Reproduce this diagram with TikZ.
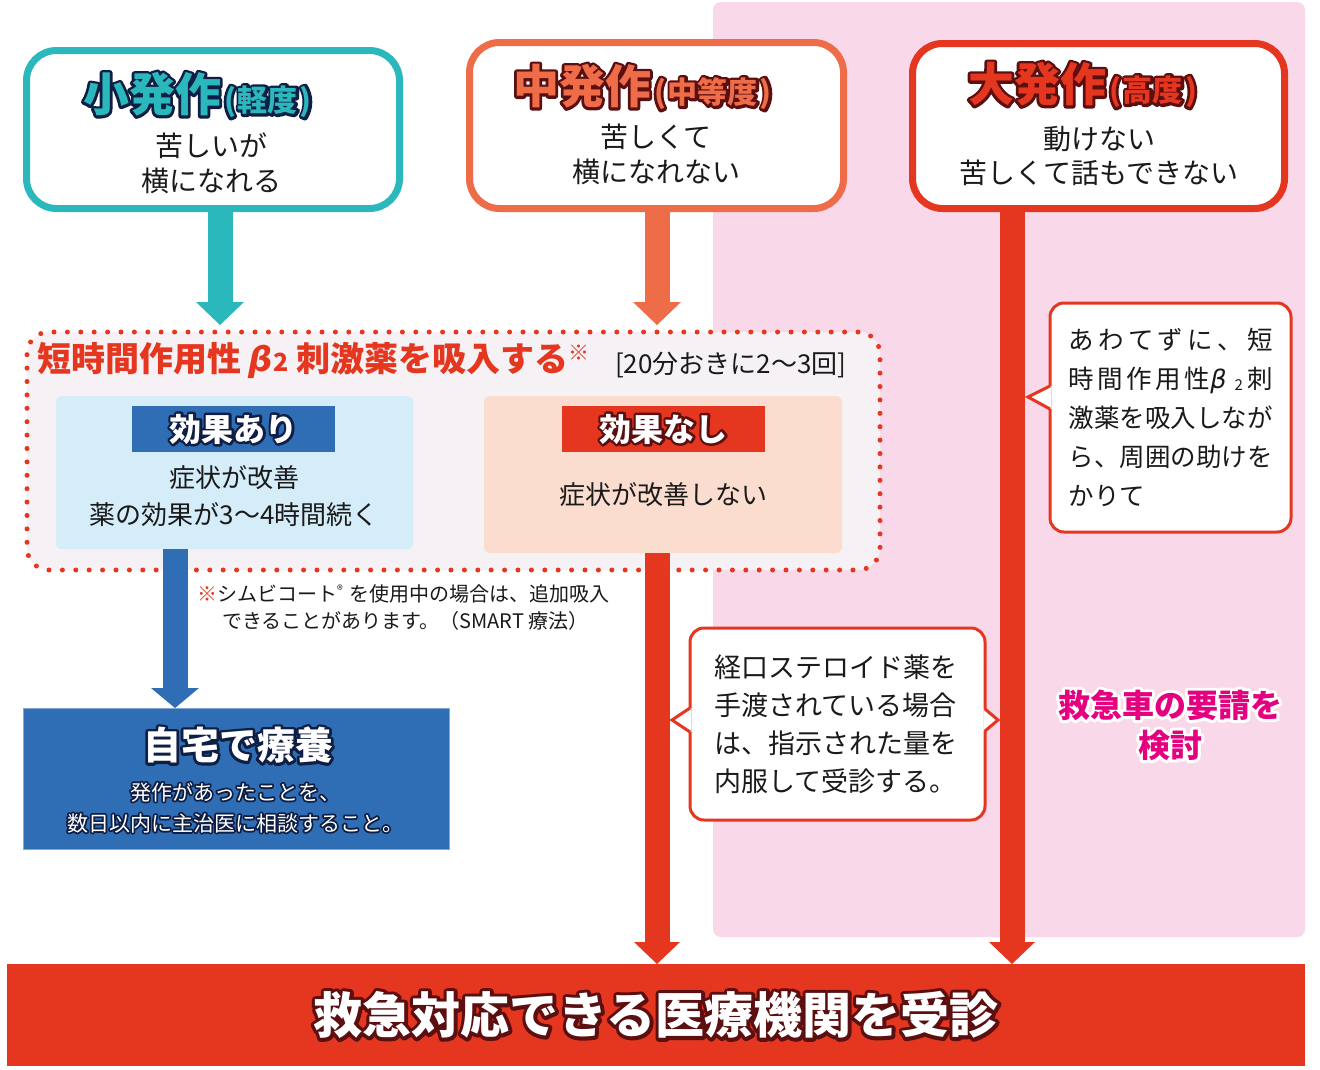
\documentclass[tikz,border=0pt]{standalone}
\usepackage{fontspec}
\setmainfont{Noto Sans CJK JP}
\newfontfamily\grk{DejaVu Sans}
\usetikzlibrary{arrows.meta,calc}
\definecolor{cTeal}{HTML}{2BB8BC}
\definecolor{cOrange}{HTML}{EE6D48}
\definecolor{cRed}{HTML}{E5361F}
\definecolor{cBlue}{HTML}{2F6EB5}
\definecolor{cLBlue}{HTML}{D5ECF9}
\definecolor{cPeach}{HTML}{FADDCF}
\definecolor{cGray}{HTML}{F5F1F4}
\definecolor{cPink}{HTML}{F9D9E9}
\definecolor{cMag}{HTML}{E4007F}
\definecolor{cNavy}{HTML}{0E1E44}
\definecolor{cMaroon}{HTML}{5C0F10}
\definecolor{cText}{HTML}{1A1A1A}
\newcommand\fsz[1]{\fontsize{#1}{#1}\selectfont}
\newcommand\fszb[2]{\fontsize{#1}{#2}\selectfont}
% outlined text: name, position, options, outline colour, fill colour, stroke width, text
\newcommand\outl[7]{%
  \node[#3,text=#4] (#1-o) at (#2) {\special{pdf:literal direct 1 j 1 J #6 w 1 Tr}#7};
  \node[#3,text=#5] (#1) at (#2) {#7};}
\begin{document}
\begin{tikzpicture}[x=1pt,y=-1pt,
  every node/.style={inner sep=0pt,outer sep=0pt},
  sevbox/.style={draw,line width=7,rounded corners=30,fill=white},
  dotbox/.style={draw=cRed,fill=cGray,line width=5,dash pattern=on 0pt off 13.4pt,line cap=round,rounded corners=22},
  subbox/.style={rounded corners=6},
  callout/.style={draw=cRed,fill=white,line width=3,rounded corners=14},
  body/.style={text=cText,align=center},
  fatarrow/.style={line width=25},
]
\useasboundingbox (0,0) rectangle (1320,1069);
\fill[white] (0,0) rectangle (1320,1069);
% pink zone
\fill[cPink,rounded corners=8] (713,2) rectangle (1305,937);

% coordinates for arrow columns
\coordinate (xt) at (220,0);
\coordinate (xo) at (657,0);
\coordinate (xb) at (175,0);
\coordinate (xr) at (1012,0);

% dotted inhalation region
\node[dotbox,minimum width=853,minimum height=238] (dot) at (453.5,451) {};
\node[subbox,fill=cLBlue,minimum width=357,minimum height=153] (ari) at (234.5,472.5) {};
\node[subbox,fill=cPeach,minimum width=358,minimum height=157] (nashi) at (663,474.5) {};
\node[fill=cBlue,minimum width=203,minimum height=46] (ariH) at (233.5,429) {};
\node[fill=cRed,minimum width=203,minimum height=46] (nashiH) at (663.5,429) {};

% home box and bottom bar
\node[fill=cBlue,draw=cBlue!60,line width=0.8,minimum width=426,minimum height=141] (home) at (236,778.5) {};
\node[fill=cRed,minimum width=1298,minimum height=102] (bar) at (656,1015) {};

% centres of the severity boxes
\path (213,129.5) coordinate (b1c) (656.5,125.5) coordinate (b2c) (1098.5,126) coordinate (b3c);

% arrows
\draw[fatarrow,cTeal,-{Triangle[width=48pt,length=23pt,line width=0pt]}] (xt |- 0,200) -- ($(dot.north -| xt)+(0,-7)$);
\draw[fatarrow,cOrange,-{Triangle[width=48pt,length=23pt,line width=0pt]}] (xo |- 0,200) -- ($(dot.north -| xo)+(0,-7)$);
\draw[fatarrow,cBlue,-{Triangle[width=48pt,length=20pt,line width=0pt]}] (ari.south -| xb) -- (home.north -| xb);
\draw[fatarrow,cRed,-{Triangle[width=46pt,length=22pt,line width=0pt]}] (nashi.south -| xo) -- (bar.north -| xo);
\draw[fatarrow,cRed,-{Triangle[width=46pt,length=22pt,line width=0pt]}] (xr |- 0,200) -- (bar.north -| xr);

% severity boxes
\node[sevbox,draw=cTeal,minimum width=373,minimum height=158] (b1) at (b1c) {};
\node[sevbox,draw=cOrange,minimum width=374,minimum height=166] (b2) at (b2c) {};
\node[sevbox,draw=cRed,minimum width=372,minimum height=165] (b3) at (b3c) {};

% titles
\outl{t1}{83,95}{anchor=west,font=\bfseries}{cNavy}{cTeal}{5.5}{\fsz{46}小発作\fsz{30}\kern3pt(\kern2pt 軽度\kern2pt)}
\outl{t2}{513,87}{anchor=west,font=\bfseries}{cMaroon}{cOrange}{5.5}{\fsz{46}中発作\fsz{30}\kern3pt(\kern2pt 中等度\kern2pt)}
\outl{t3}{968,85}{anchor=west,font=\bfseries}{cMaroon}{cRed}{5.5}{\fsz{46}大発作\fsz{30}\kern3pt(\kern2pt 高度\kern2pt)}

\node[body,font=\fszb{28}{35}] (d1) at (211,163.5) {苦しいが\\横になれる};
\node[body,font=\fszb{28}{35}] (d2) at (656,154.5) {苦しくて\\横になれない};
\node[body,font=\fszb{28}{34}] (d3) at (1099,155.5) {動けない\\苦しくて話もできない};

% inhalation title
\node[anchor=west,text=cRed,font=\bfseries\fsz{34}] (inh) at (37,360)
  {短時間作用性 {\grk\itshape β}{\fsz{25}2} 刺激薬を吸入する\raisebox{11pt}{\fsz{21}\mdseries ※}};
\node[anchor=west,text=cText,font=\fsz{26}] (freq) at (615,365) {[20分おきに2〜3回]};

\outl{h1}{233.5,429}{font=\bfseries\fsz{32}}{cNavy}{white}{5}{効果あり}
\outl{h2}{663.5,429}{font=\bfseries\fsz{32}}{cMaroon}{white}{5}{効果なし}
\node[body,font=\fszb{26}{37}] (ariT) at (234,496.5) {症状が改善\\薬の効果が3〜4時間続く};
\node[body,font=\fsz{26}] (nashiT) at (663,495) {症状が改善しない};

% note
\node[anchor=west,align=left,text=cText,font=\fszb{20}{27}] (note) at (197,608)
  {{\color{cRed}※}シムビコート\raisebox{7pt}{\fsz{12}®}\hspace{7pt}を使用中の場合は、追加吸入\\\hspace*{25pt}できることがあります。（SMART 療法）};

% home text
\outl{hm}{238,745}{font=\bfseries\fsz{38}}{cNavy}{white}{5.5}{自宅で療養}
\outl{hm2}{235,807.5}{font=\fszb{21}{31},align=center}{cNavy}{white}{3.6}{発作があったことを、\\数日以内に主治医に相談すること。}

% callout 1
\node[callout,minimum width=295,minimum height=192,text width=247,inner xsep=24,align=left,text=cText,font=\fszb{27}{38}] (c1) at (837.5,724)
  {経口ステロイド薬を\\手渡されている場合\\は、指示された量を\\内服して受診する。};
\fill[white] ($(c1.west)+(1.6,-16)$) -- ($(c1.west)+(-18,-4)$) -- ($(c1.west)+(1.6,8)$) -- cycle;
\draw[cRed,line width=3] ($(c1.west)+(0,-16)$) -- ($(c1.west)+(-18,-4)$) -- ($(c1.west)+(0,8)$);
\fill[white] ($(c1.east)+(-1.6,-15)$) -- ($(c1.east)+(13,-4)$) -- ($(c1.east)+(-1.6,7)$) -- cycle;
\draw[cRed,line width=3] ($(c1.east)+(0,-15)$) -- ($(c1.east)+(13,-4)$) -- ($(c1.east)+(0,7)$);

% callout 2
\node[callout,minimum width=241,minimum height=229,text width=204,inner xsep=18.5,align=left,text=cText,font=\fszb{25.5}{39}] (c2) at (1170.5,417.5)
  {\makebox[204pt]{あ\hfill わ\hfill て\hfill ず\hfill に\hfill 、\hfill 短}\\
   \makebox[204pt]{時\hfill 間\hfill 作\hfill 用\hfill 性{\grk\itshape β}\hspace{8pt}\raisebox{-2pt}{\fsz{15}2}\hspace{4pt}刺}\\
   激薬を吸入しなが\\ら、周囲の助けを\\かりて};
\fill[white] ($(c2.west)+(1.6,-31.5)$) -- ($(c2.west)+(-22,-20.5)$) -- ($(c2.west)+(1.6,-8.5)$) -- cycle;
\draw[cRed,line width=3] ($(c2.west)+(0,-31.5)$) -- ($(c2.west)+(-22,-20.5)$) -- ($(c2.west)+(0,-8.5)$);

% ambulance note
\outl{amb}{1170,725}{font=\bfseries\fszb{32}{40},align=center}{white}{cMag}{6}{救急車の要請を\\検討}

% bottom text
\outl{bt}{656,1015}{font=\bfseries\fsz{49}}{cMaroon}{white}{7}{救急対応できる医療機関を受診}
\end{tikzpicture}
\end{document}
